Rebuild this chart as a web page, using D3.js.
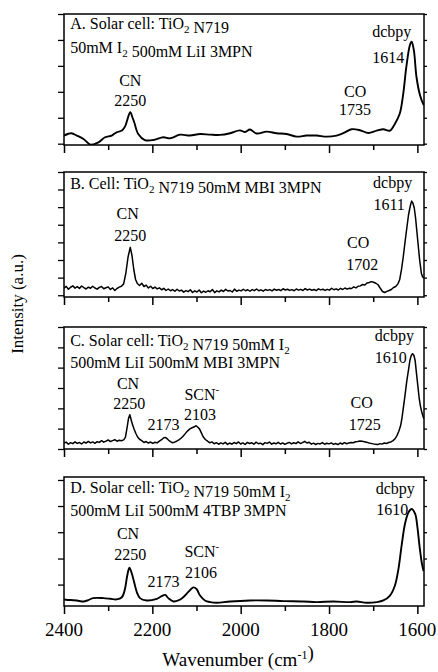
<!DOCTYPE html>
<html><head><meta charset="utf-8">
<script src="https://cdn.jsdelivr.net/npm/d3@7"></script>
<style>
body{margin:0;background:#fff}
svg{display:block}
</style>
</head><body>
<svg id="chart" width="438" height="672"></svg>
<script>
// ---------------- data ----------------
const xMajorTicks = [2400, 2200, 2000, 1800, 1600];
const xMinorTicks = [2300, 2100, 1900, 1700];
const xTickLabels = ["2400", "2200", "2000", "1800", "1600"];
const xTitle = "Wavenumber (cm^{-1})";
const yTitle = "Intensity (a.u.)";

// intensity in % of panel height (arbitrary units)
const spectrumA = [[2400,7.2],[2390,8.6],[2383,9.0],[2371,7.2],[2356,4.6],[2340,0.3],[2322,2.0],[2307,5.9],[2292,7.2],[2281,9.7],[2269,11.0],[2262,14],[2256,20],[2250,25.1],[2245,21],[2241,17.4],[2232,8.4],[2217,3.8],[2198,3.8],[2175,5.9],[2160,5.1],[2137,7.9],[2115,7.2],[2092,8.4],[2069,7.9],[2047,7.7],[2024,9.0],[2002,11.2],[1990,9.9],[1979,11.8],[1964,8.8],[1941,10.2],[1919,9.0],[1896,8.4],[1873,6.4],[1851,7.2],[1828,7.2],[1805,6.4],[1783,7.2],[1768,9.0],[1749,12.0],[1730,11.3],[1711,9.2],[1692,11.0],[1677,12.0],[1662,11.0],[1651,16.1],[1640,23.8],[1632,39.1],[1625,59.6],[1617,76.2],[1613,78.8],[1608,72.4],[1602,51.9],[1594,37.9],[1587,31.5],[1585,30.5]];

const spectrumB = [[2400,7.0],[2395,8.5],[2390,6.2],[2385,7.8],[2380,8.9],[2375,7.1],[2370,8.3],[2365,6.9],[2360,8.8],[2355,7.5],[2350,6.4],[2345,7.9],[2340,7.0],[2335,8.6],[2330,7.2],[2325,6.3],[2320,7.7],[2315,8.4],[2310,6.6],[2305,7.4],[2300,8.1],[2295,6.0],[2290,7.3],[2285,5.2],[2280,6.8],[2275,7.9],[2270,8.6],[2265,10.5],[2260,19],[2255,32],[2250,39.7],[2246,33],[2242,22],[2238,14],[2234,10.8],[2229,9.2],[2224,11.0],[2219,8.4],[2214,9.5],[2209,7.2],[2204,8.6],[2199,6.8],[2194,7.9],[2189,6.5],[2184,7.3],[2179,5.8],[2174,6.9],[2169,5.2],[2164,6.4],[2159,5.0],[2154,5.9],[2149,4.6],[2144,6.2],[2139,4.8],[2134,5.5],[2129,3.9],[2124,5.1],[2119,4.3],[2114,5.8],[2109,3.6],[2104,4.9],[2099,4.0],[2094,5.6],[2089,3.4],[2084,4.7],[2079,3.8],[2074,5.0],[2069,4.2],[2064,6.0],[2059,3.5],[2054,4.9],[2049,4.1],[2044,5.5],[2039,4.4],[2034,6.1],[2029,4.8],[2024,5.2],[2019,4.0],[2014,6.3],[2009,4.6],[2004,5.5],[1999,4.9],[1994,6.2],[1989,5.0],[1984,5.8],[1979,4.6],[1974,5.9],[1969,5.1],[1964,6.4],[1959,5.0],[1954,5.7],[1949,4.7],[1944,6.0],[1939,5.3],[1934,5.9],[1929,4.9],[1924,6.3],[1919,5.4],[1914,6.0],[1909,5.1],[1904,6.6],[1899,5.6],[1894,6.2],[1889,5.3],[1884,5.9],[1879,5.0],[1874,6.4],[1869,5.5],[1864,6.1],[1859,5.2],[1854,6.7],[1849,5.6],[1844,6.3],[1839,5.4],[1834,6.0],[1829,5.1],[1824,6.5],[1819,5.7],[1814,6.2],[1809,5.3],[1804,6.1],[1799,5.5],[1794,7.0],[1789,5.8],[1784,6.5],[1779,5.6],[1774,6.9],[1769,6.0],[1764,7.2],[1759,6.3],[1754,7.0],[1749,6.8],[1744,8.1],[1739,7.3],[1734,8.6],[1729,8.9],[1724,10.0],[1719,9.6],[1714,11.2],[1709,11.6],[1704,12.3],[1699,11.8],[1694,11.0],[1689,9.8],[1684,7.0],[1679,4.4],[1674,3.6],[1669,4.5],[1664,5.2],[1659,6.0],[1654,7.6],[1649,8.4],[1644,10.5],[1640,14],[1636,21.9],[1632,32],[1628,43.8],[1624,55],[1620,65.8],[1616,73],[1613,76.7],[1610,75],[1607,71.2],[1604,63],[1601,52],[1598,41],[1595,30.1],[1591,19],[1588,16],[1585,15.1]];

const spectrumC = [[2400,4.8],[2395,5.6],[2390,3.9],[2385,5.2],[2380,4.4],[2375,5.9],[2370,4.6],[2365,5.3],[2360,4.1],[2355,5.7],[2350,4.9],[2345,6.2],[2340,5.0],[2335,5.8],[2330,4.7],[2325,6.0],[2320,5.4],[2315,6.8],[2310,5.6],[2305,6.5],[2300,7.4],[2295,6.1],[2290,6.9],[2285,7.6],[2280,6.4],[2275,7.2],[2270,6.8],[2265,7.5],[2261,9.5],[2257,18],[2254,25],[2251,28.1],[2248,24],[2245,20],[2241,16],[2237,12.5],[2233,9.6],[2229,8.0],[2224,6.9],[2219,5.3],[2214,6.1],[2209,4.9],[2204,5.7],[2199,4.6],[2194,5.5],[2189,5.0],[2184,6.4],[2179,7.6],[2175,9.0],[2171,9.5],[2167,8.6],[2163,7.2],[2159,6.0],[2155,5.2],[2150,5.6],[2145,6.4],[2140,7.5],[2135,8.8],[2130,10.6],[2125,12.8],[2120,14.9],[2115,16.5],[2110,17.4],[2105,18.2],[2101,19.1],[2097,17.8],[2093,16.3],[2089,13.2],[2085,10.0],[2080,7.8],[2075,6.4],[2070,5.1],[2065,5.8],[2060,4.3],[2055,5.2],[2050,3.9],[2045,5.0],[2040,4.2],[2035,5.5],[2030,3.8],[2025,4.9],[2020,4.0],[2015,5.3],[2010,4.4],[2005,5.8],[2000,4.1],[1995,5.0],[1990,3.7],[1985,5.4],[1980,4.5],[1975,5.1],[1970,3.9],[1965,5.6],[1960,4.3],[1955,4.8],[1950,3.6],[1945,5.2],[1940,4.6],[1935,5.7],[1930,4.0],[1925,4.9],[1920,4.3],[1915,5.5],[1910,4.1],[1905,5.0],[1900,3.8],[1895,4.7],[1890,5.4],[1885,4.2],[1880,5.1],[1875,4.4],[1870,5.9],[1865,4.5],[1860,5.2],[1855,6.3],[1850,4.9],[1845,5.5],[1840,4.0],[1835,4.8],[1830,3.7],[1825,4.6],[1820,4.1],[1815,5.3],[1810,3.9],[1805,4.7],[1800,4.2],[1795,5.0],[1790,3.8],[1785,4.5],[1780,3.6],[1775,4.9],[1770,4.1],[1765,5.2],[1760,4.3],[1755,5.0],[1750,5.4],[1745,5.1],[1740,5.9],[1735,6.2],[1730,6.6],[1725,6.4],[1720,6.0],[1715,5.6],[1710,5.0],[1705,4.6],[1700,4.2],[1695,3.8],[1690,3.6],[1685,4.4],[1680,4.0],[1675,4.9],[1670,4.5],[1665,5.3],[1660,5.8],[1655,6.9],[1650,8.6],[1646,11.2],[1642,14.5],[1638,19],[1635,25],[1632,33.1],[1628,44],[1624,55.6],[1620,65],[1617,72.5],[1614,76.5],[1611,78.1],[1608,76.8],[1605,72.5],[1602,62],[1599,52],[1596,42],[1593,35],[1590,30.3],[1587,26.5],[1585,24.7]];

const spectrumD = [[2400,5.1],[2385,4.6],[2371,4.3],[2356,3.5],[2345,4.6],[2334,6.1],[2311,6.1],[2295,5.6],[2281,5.1],[2269,6.8],[2262,13.2],[2257,23.3],[2252,29.6],[2247,25.8],[2241,18.2],[2235,10.6],[2228,6.1],[2213,4.3],[2190,5.6],[2179,7.6],[2171,8.6],[2164,6.1],[2152,3.5],[2141,4.3],[2130,6.8],[2118,11.1],[2107,14.4],[2100,13.2],[2092,8.1],[2081,4.3],[2069,3.0],[2054,2.5],[2024,3.5],[1979,4.3],[1941,4.3],[1903,3.8],[1858,3.5],[1828,3.0],[1790,3.5],[1752,3.0],[1737,3.5],[1715,2.5],[1692,3.0],[1677,4.3],[1662,8.1],[1651,15.7],[1643,28.4],[1635,48.6],[1628,63.8],[1620,72.7],[1613,75.2],[1605,71.4],[1600,61.3],[1595,46.1],[1590,33.4],[1586,27.1]];

const yTicksA = [1, 20.8, 40.6, 60.4, 80.2, 100];
const yTicksB = [1.4, 15.5, 29.6, 43.7, 57.8, 71.9, 86, 100];
const yTicksC = [0, 16.7, 33.3, 50, 66.7, 83.3, 100];
const yTicksD = [16.6, 36.8, 57.2, 77.5, 97.7];

const titlesA = ["A. Solar cell: TiO_{2} N719", "50mM I_{2} 500mM LiI 3MPN"];
const titlesB = ["B. Cell: TiO_{2} N719 50mM MBI 3MPN"];
const titlesC = ["C. Solar cell: TiO_{2} N719 50mM I_{2}", "500mM LiI 500mM MBI 3MPN"];
const titlesD = ["D. Solar cell: TiO_{2} N719 50mM I_{2}", "500mM LiI 500mM 4TBP 3MPN"];
const titleLevelsA = [88.5, 70.6];
const titleLevelsB = [86.8];
const titleLevelsC = [84.8, 66.0];
const titleLevelsD = [87.7, 69.6];

// peak annotations: text, wavenumber (centre), level (% of panel)
const labelsA = [["CN",2250,45.0],["2250",2250,29.8],["CO",1741,36.6],["1735",1741,22.9],["dcbpy",1658,82.1],["1614",1666,62.6]];
const labelsB = [["CN",2256,62.5],["2250",2250,44.5],["CO",1734,39.0],["1702",1725,21.3],["dcbpy",1656,87.5],["1611",1664,69.3]];
const labelsC = [["CN",2255,48.8],["2250",2252,32.5],["2173",2175,15.6],["SCN^{-}",2088,40],["2103",2092,23.8],["CO",1726,33.6],["1725",1719,15.3],["dcbpy",1652,88.5],["1610",1660,70.5]];
const labelsD = [["CN",2255,52],["2250",2250,35.4],["2173",2175,14.8],["SCN^{-}",2088,37.9],["2106",2090,22],["dcbpy",1650,87],["1610",1657,70.5]];

// ---------------- drawing ----------------
const panels = [
  {data: spectrumA, ticks: yTicksA, titles: titlesA, tl: titleLevelsA, labels: labelsA, smooth: true},
  {data: spectrumB, ticks: yTicksB, titles: titlesB, tl: titleLevelsB, labels: labelsB, smooth: false},
  {data: spectrumC, ticks: yTicksC, titles: titlesC, tl: titleLevelsC, labels: labelsC, smooth: false},
  {data: spectrumD, ticks: yTicksD, titles: titlesD, tl: titleLevelsD, labels: labelsD, smooth: true}
];
const panelTops = [14, 172, 327, 477];
const panelBottoms = [145, 297, 449, 606];
const left = 64, right = 424;
const FONT = "Liberation Serif";

const svg = d3.select("#chart");
const x = d3.scaleLinear().domain([2400, 1585]).range([left, right]);

function richText(sel, str, supSize) {
  const parts = str.split(/([_^]\{[^}]*\})/).filter(s => s.length);
  parts.forEach(p => {
    if (p[0] === "_" && p[1] === "{") {
      sel.append("tspan").attr("dy", 4).attr("font-size", supSize).text(p.slice(2, -1));
      sel.append("tspan").attr("dy", -4).text("");
    } else if (p[0] === "^" && p[1] === "{") {
      sel.append("tspan").attr("dy", -7).attr("font-size", supSize).text(p.slice(2, -1));
      sel.append("tspan").attr("dy", 7).text("");
    } else {
      sel.append("tspan").text(p);
    }
  });
}

panels.forEach((p, i) => {
  const top = panelTops[i], bottom = panelBottoms[i], h = bottom - top;
  const y = d3.scaleLinear().domain([0, 100]).range([bottom, top]);
  const g = svg.append("g");

  g.append("clipPath").attr("id", "clip" + i)
    .append("rect").attr("x", left).attr("y", top).attr("width", right - left).attr("height", h);

  const line = d3.line().x(d => x(d[0])).y(d => y(d[1]))
    .curve(p.smooth ? d3.curveCatmullRom.alpha(0.5) : d3.curveLinear);
  g.append("path").datum(p.data).attr("d", line)
    .attr("clip-path", "url(#clip" + i + ")")
    .attr("fill", "none").attr("stroke", "#000").attr("stroke-width", p.smooth ? 1.9 : 1.5)
    .attr("stroke-linejoin", "round");

  const la = d3.axisLeft(y).tickValues(p.ticks).tickSize(6).tickFormat("");
  g.append("g").attr("transform", `translate(${left},0)`).call(la)
    .call(s => s.select(".domain").remove())
    .selectAll("line").attr("stroke-width", 1.3);
  const ra = d3.axisRight(y).tickValues(p.ticks).tickSize(3).tickFormat("");
  g.append("g").attr("transform", `translate(${right},0)`).call(ra)
    .call(s => s.select(".domain").remove())
    .selectAll("line").attr("stroke-width", 1.3);

  const ma = d3.axisBottom(x).tickValues(xMajorTicks).tickSize(8).tickFormat("");
  g.append("g").attr("transform", `translate(0,${bottom})`).call(ma)
    .call(s => s.select(".domain").remove())
    .selectAll("line").attr("stroke-width", 1.5);
  const mi = d3.axisBottom(x).tickValues(xMinorTicks).tickSize(5).tickFormat("");
  g.append("g").attr("transform", `translate(0,${bottom})`).call(mi)
    .call(s => s.select(".domain").remove())
    .selectAll("line").attr("stroke-width", 1.5);

  g.append("rect").attr("x", left).attr("y", top).attr("width", right - left).attr("height", h)
    .attr("fill", "none").attr("stroke", "#000").attr("stroke-width", 1.5);

  p.titles.forEach((t, k) => {
    const tx = g.append("text").attr("x", x(2386)).attr("y", y(p.tl[k]))
      .attr("font-family", FONT).attr("font-size", 16);
    richText(tx, t, 11);
  });

  p.labels.forEach(l => {
    const tx = g.append("text").attr("x", x(l[1])).attr("y", y(l[2]))
      .attr("text-anchor", "middle").attr("font-family", FONT).attr("font-size", 16);
    richText(tx, l[0], 11);
  });
});

svg.append("g").selectAll("text").data(xMajorTicks).join("text")
  .attr("x", d => x(d)).attr("y", 636).attr("text-anchor", "middle")
  .attr("font-family", FONT).attr("font-size", 19).text((d, i) => xTickLabels[i]);

const xt = svg.append("text").attr("x", 238).attr("y", 666)
  .attr("text-anchor", "middle").attr("font-family", FONT).attr("font-size", 19);
richText(xt, xTitle, 12);

svg.append("text").attr("transform", "translate(23,304) rotate(-90)")
  .attr("text-anchor", "middle").attr("font-family", FONT).attr("font-size", 17).text(yTitle);
</script>
</body></html>
